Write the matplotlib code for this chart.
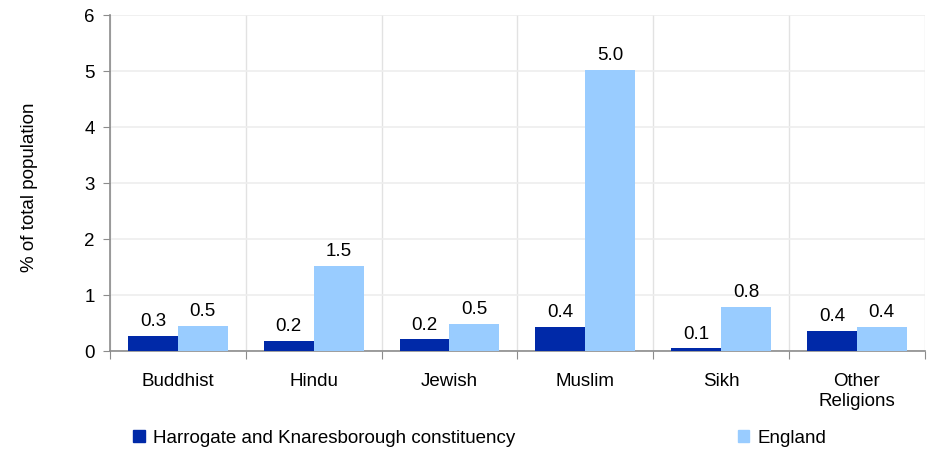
import matplotlib.pyplot as plt
import numpy as np
from matplotlib.patches import Patch

plt.rcParams["font.family"] = ["Liberation Sans", "DejaVu Sans"]

categories = ["Buddhist", "Hindu", "Jewish", "Muslim", "Sikh", "Other\nReligions"]
harrogate = [0.27, 0.18, 0.21, 0.43, 0.05, 0.36]
harrogate_labels = ["0.3", "0.2", "0.2", "0.4", "0.1", "0.4"]
england = [0.45, 1.52, 0.49, 5.02, 0.79, 0.43]
england_labels = ["0.5", "1.5", "0.5", "5.0", "0.8", "0.4"]

dark = "#0029a8"
light = "#99ccff"
grey = "#8c8c8c"
fs = 13.5

fig = plt.figure(figsize=(9.28, 4.51), dpi=100)
ax = fig.add_axes([0.1185, 0.2217, 0.878, 0.745])

x = np.arange(len(categories))
w = 0.367
b1 = ax.bar(x - w / 2, harrogate, w, color=dark, zorder=3)
b2 = ax.bar(x + w / 2, england, w, color=light, zorder=3)

for rect, lab in zip(b1, harrogate_labels):
    ax.annotate(lab, (rect.get_x() + rect.get_width() / 2, rect.get_height()),
                xytext=(0, 4), textcoords="offset points",
                ha="center", va="bottom", fontsize=fs)
for rect, lab in zip(b2, england_labels):
    ax.annotate(lab, (rect.get_x() + rect.get_width() / 2, rect.get_height()),
                xytext=(0, 4), textcoords="offset points",
                ha="center", va="bottom", fontsize=fs)

ax.set_xlim(-0.5, len(categories) - 0.5)
ax.set_ylim(0, 6)
ax.set_yticks(range(0, 7))
ax.tick_params(axis="y", labelsize=fs, length=5, color=grey, pad=6)

# category labels as minor ticks, boundaries as major ticks
ax.set_xticks(np.arange(-0.5, len(categories)), [])
ax.set_xticks(x, categories, minor=True)
ax.tick_params(axis="x", which="major", length=6, color=grey)
ax.tick_params(axis="x", which="minor", length=0, labelsize=fs, pad=16)

for s in ["top", "right"]:
    ax.spines[s].set_visible(False)
for s in ["left", "bottom"]:
    ax.spines[s].set_color(grey)
    ax.spines[s].set_linewidth(1.2)

ax.grid(axis="y", color="#eeeeee", linewidth=1.2, zorder=0)
ax.grid(axis="x", which="major", color="#e2e2e2", linewidth=1.0, zorder=0)
ax.set_axisbelow(True)

fig.text(0.032, 0.585, "% of total population", rotation=90,
         ha="center", va="center", fontsize=fs)

fig.legend(handles=[Patch(color=dark, label="Harrogate and Knaresborough constituency")],
           loc="center left", bbox_to_anchor=(0.1255, 0.028), frameon=False,
           fontsize=fs, handlelength=0.6, handleheight=0.6, handletextpad=0.45)
fig.legend(handles=[Patch(color=light, label="England")],
           loc="center left", bbox_to_anchor=(0.777, 0.028), frameon=False,
           fontsize=fs, handlelength=0.6, handleheight=0.6, handletextpad=0.45)

fig.savefig("out.png", dpi=100)
